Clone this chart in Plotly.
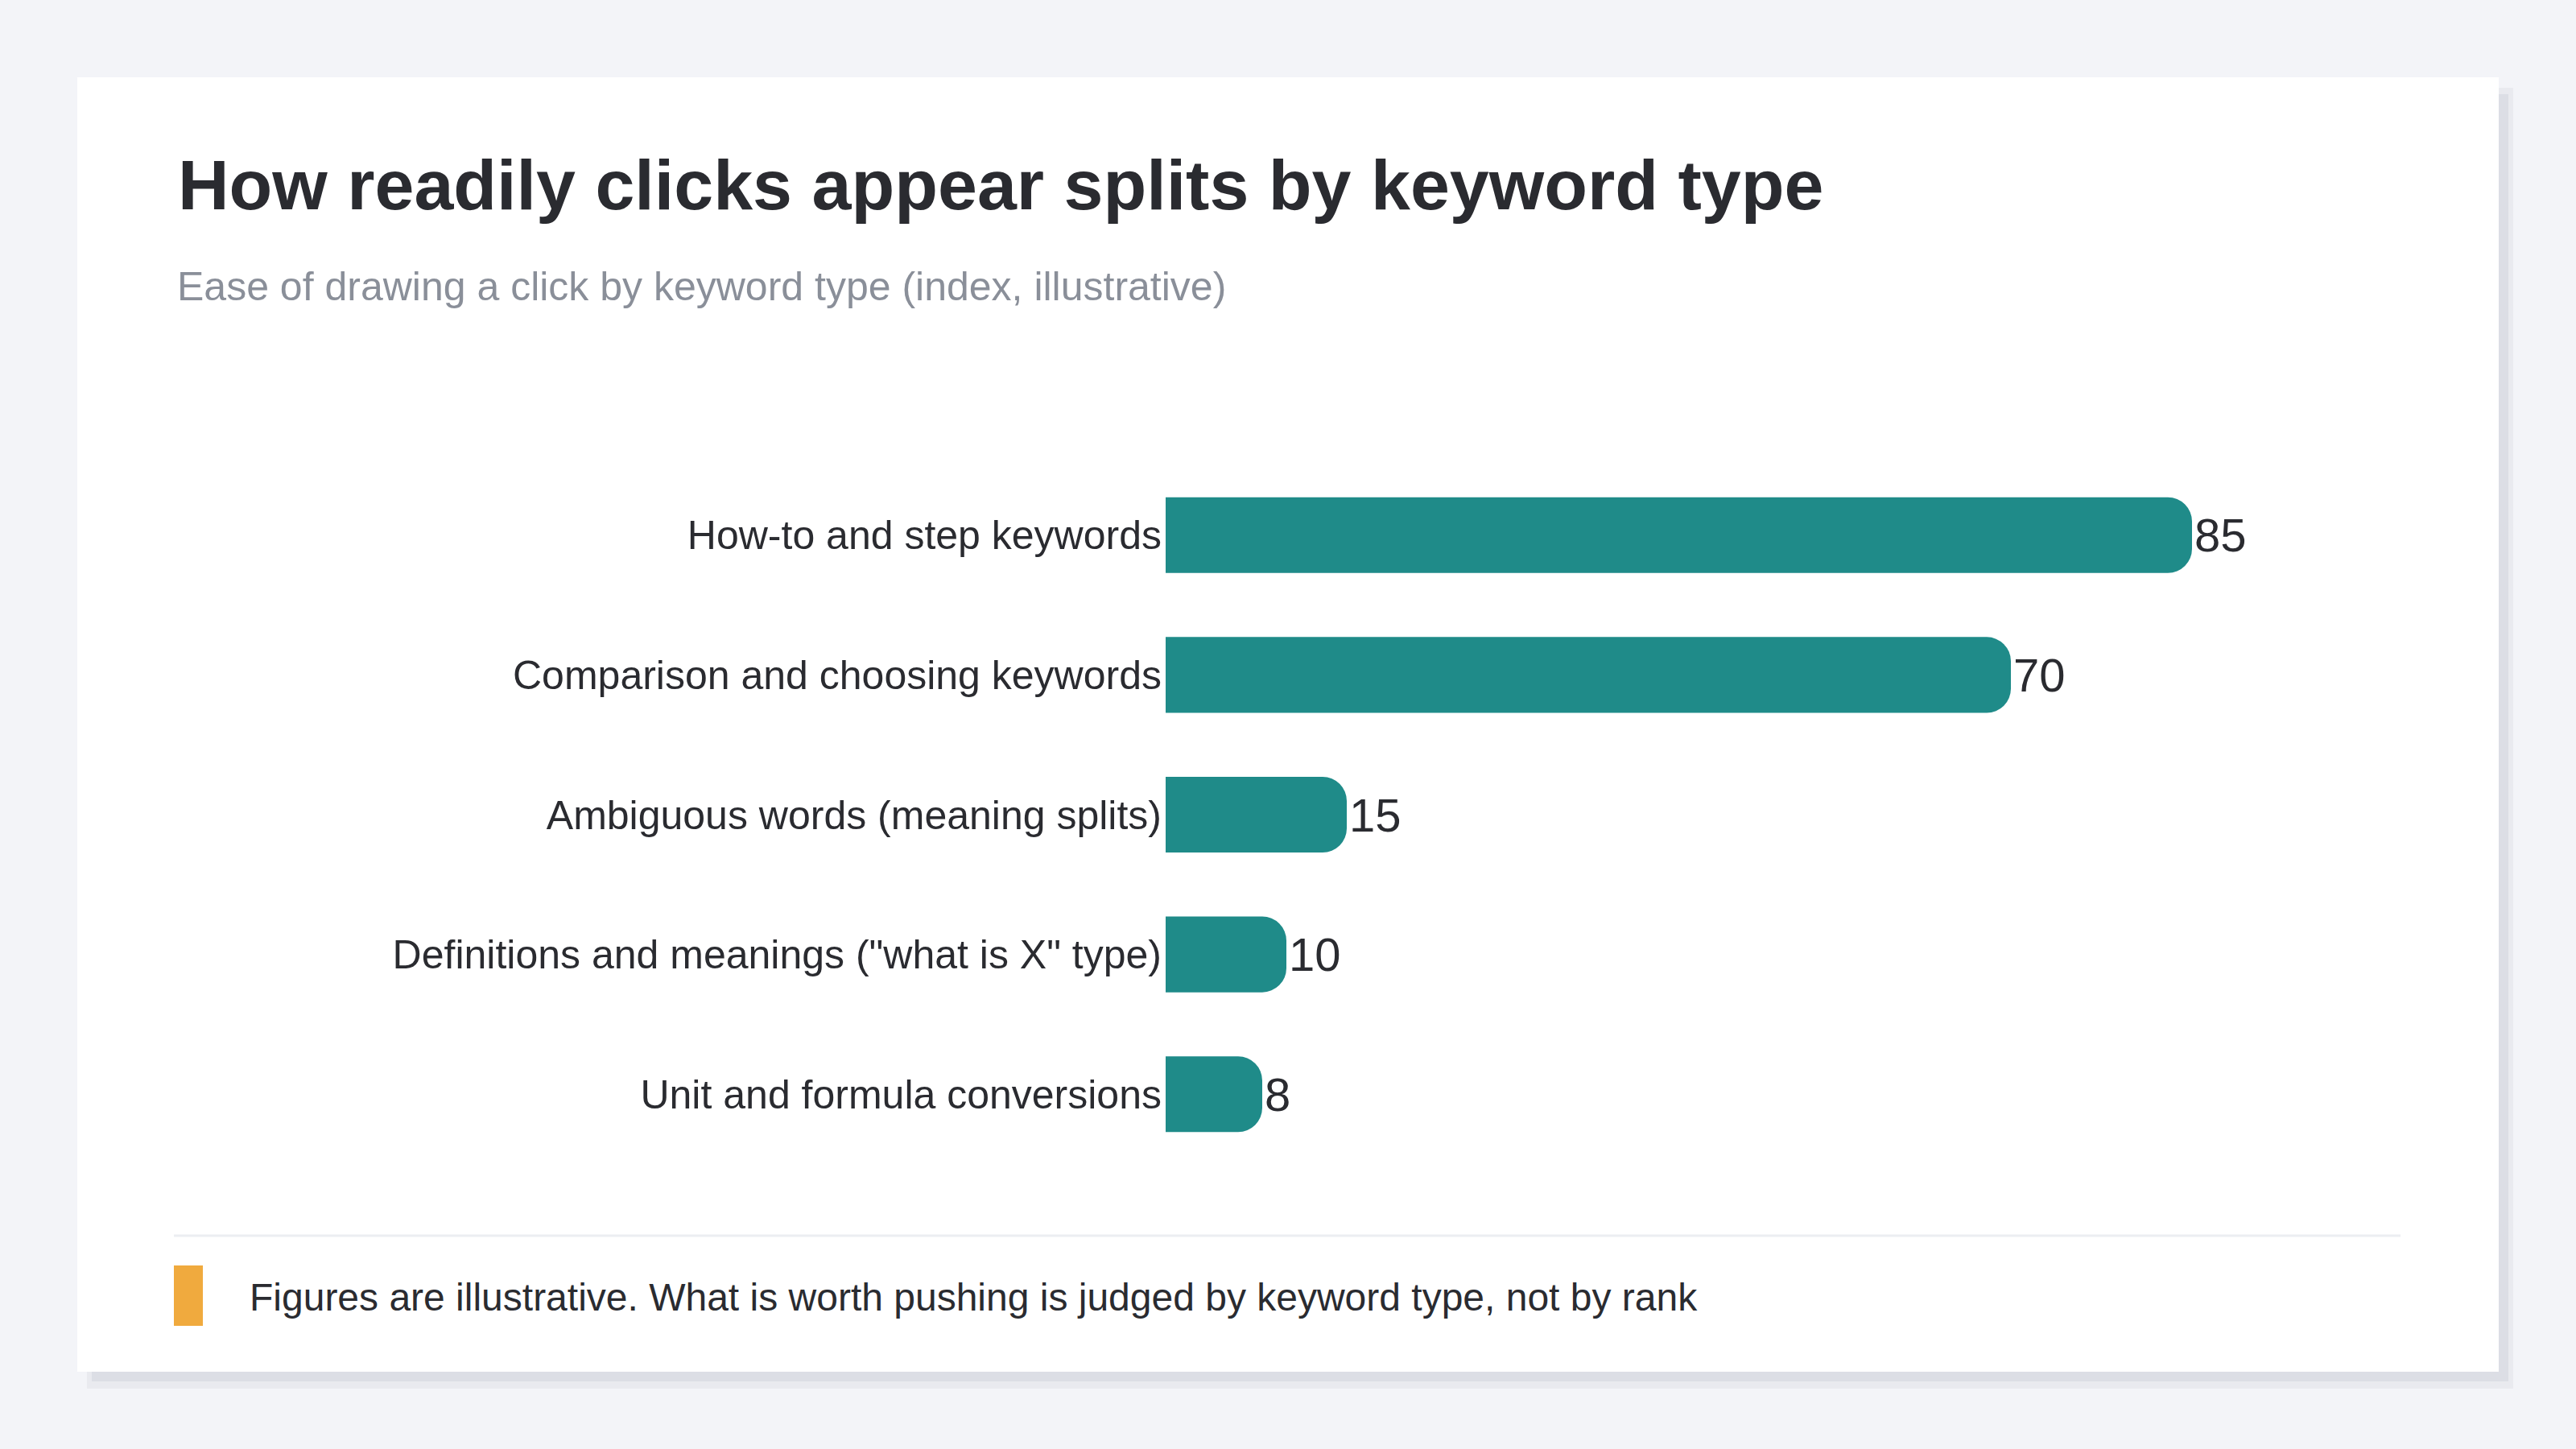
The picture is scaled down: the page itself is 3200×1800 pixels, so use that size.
import plotly.graph_objects as go

# data
categories = [
    "How-to and step keywords",
    "Comparison and choosing keywords",
    "Ambiguous words (meaning splits)",
    "Definitions and meanings (\"what is X\" type)",
    "Unit and formula conversions",
]
values = [85, 70, 15, 10, 8]

title_text = "How readily clicks appear splits by keyword type"
subtitle_text = "Ease of drawing a click by keyword type (index, illustrative)"
note_text = "Figures are illustrative. What is worth pushing is judged by keyword type, not by rank"

W, H = 3200, 1800
FONT = "Liberation Sans, Arial, sans-serif"
DARK = "#2a2b30"
TEAL = "#1f8b89"


def px(x):
    return x / W


def py(y):
    return 1 - y / H


fig = go.Figure()
fig.add_trace(go.Bar(
    x=values,
    y=categories,
    orientation="h",
    marker=dict(color=TEAL, cornerradius=30, line=dict(width=0)),
    text=[str(v) for v in values],
    textposition="outside",
    textfont=dict(size=58, color=DARK, family=FONT),
    cliponaxis=False,
    hoverinfo="skip",
))

shapes = [
    # card shadow + card
    dict(type="rect", xref="paper", yref="paper", x0=px(108), x1=px(3122), y0=py(109), y1=py(1725),
         fillcolor="#e9eaef", line=dict(width=0), layer="below"),
    dict(type="rect", xref="paper", yref="paper", x0=px(114), x1=px(3116), y0=py(117), y1=py(1716),
         fillcolor="#dcdee5", line=dict(width=0), layer="below"),
    dict(type="rect", xref="paper", yref="paper", x0=px(96), x1=px(3104), y0=py(96), y1=py(1704),
         fillcolor="white", line=dict(width=0), layer="below"),
    # divider
    dict(type="line", xref="paper", yref="paper", x0=px(216), x1=px(2982), y0=py(1535), y1=py(1535),
         line=dict(color="#eceef2", width=3)),
    # orange marker
    dict(type="rect", xref="paper", yref="paper", x0=px(216), x1=px(252), y0=py(1572), y1=py(1647),
         fillcolor="#f0aa3e", line=dict(width=0)),
]

annotations = [
    dict(text="<b>" + title_text + "</b>", x=px(219), y=py(230), xanchor="left", yanchor="middle",
         font=dict(size=88, color=DARK, family=FONT)),
    dict(text=subtitle_text, x=px(218), y=py(356), xanchor="left", yanchor="middle",
         font=dict(size=50, color="#8a8f99", family=FONT)),
    dict(text=note_text, x=px(308), y=py(1611), xanchor="left", yanchor="middle",
         font=dict(size=48, color=DARK, family=FONT)),
]
for a in annotations:
    a.update(xref="paper", yref="paper", showarrow=False)

fig.update_layout(
    width=W,
    height=H,
    margin=dict(l=0, r=0, t=0, b=0),
    paper_bgcolor="#f3f4f8",
    plot_bgcolor="rgba(0,0,0,0)",
    showlegend=False,
    bargap=0.458,
    shapes=shapes,
    annotations=annotations,
    xaxis=dict(domain=[px(1448), px(2948)], range=[0, 100], visible=False, fixedrange=True),
    yaxis=dict(
        domain=[py(1446), py(578)],
        autorange="reversed",
        showgrid=False,
        zeroline=False,
        showline=False,
        ticks="",
        ticklabelstandoff=4,
        tickfont=dict(size=50, color=DARK, family=FONT),
        fixedrange=True,
    ),
)

# drop the browser's default body margin so the figure sits at 0,0
fig.write_html(
    "out.html",
    config={"displayModeBar": False},
    post_script="document.body.style.margin='0';document.body.style.overflow='hidden';",
)
